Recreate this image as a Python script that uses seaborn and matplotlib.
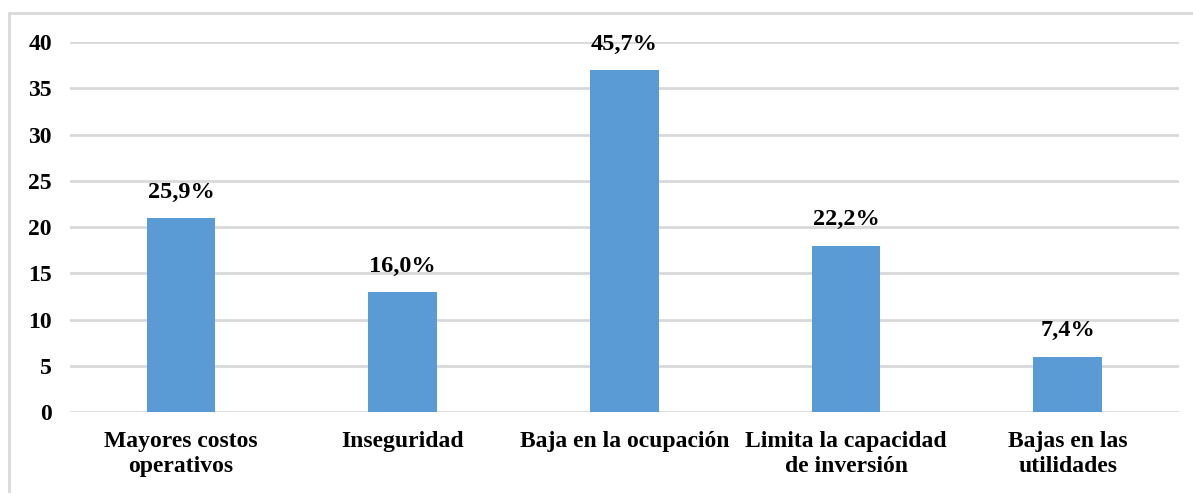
import matplotlib
matplotlib.use("Agg")
import matplotlib.pyplot as plt
import seaborn as sns
import pandas as pd
from matplotlib.lines import Line2D

# Data
categories = ["Mayores costos\noperativos", "Inseguridad", "Baja en la ocupación",
              "Limita la capacidad\nde inversión", "Bajas en las\nutilidades"]
counts = [21, 13, 37, 18, 6]
percent_labels = ["25,9%", "16,0%", "45,7%", "22,2%", "7,4%"]
y_ticks = [0, 5, 10, 15, 20, 25, 30, 35, 40]

sns.set_theme(style="white")
plt.rcParams["font.family"] = ["Liberation Serif", "DejaVu Serif"]
plt.rcParams["font.weight"] = "bold"

fig = plt.figure(figsize=(11.93, 4.93), dpi=100)
ax = fig.add_axes([0.0587, 0.1643, 0.9293, 0.7505])

df = pd.DataFrame({"categoria": categories, "valor": counts})
sns.barplot(data=df, x="categoria", y="valor", color="#5B9BD5", width=0.31,
            saturation=1, linewidth=0, ax=ax, zorder=3)

ax.set_ylim(0, 40)
ax.set_yticks(y_ticks)
ax.set_xlim(-0.5, len(categories) - 0.5)
ax.yaxis.grid(True, color="#d9d9d9", linewidth=2, zorder=0)
ax.set_axisbelow(True)
for s in ax.spines.values():
    s.set_visible(False)
ax.set_xlabel("")
ax.set_ylabel("")
ax.tick_params(axis="y", length=0, pad=13, labelsize=17)
ax.tick_params(axis="x", length=0, pad=14, labelsize=17)
for lbl in ax.get_xticklabels() + ax.get_yticklabels():
    lbl.set_fontweight("bold")
    lbl.set_color("black")
for lbl in ax.get_xticklabels():
    lbl.set_linespacing(1.2)

for i, (v, t) in enumerate(zip(counts, percent_labels)):
    ax.annotate(t, xy=(i, v), xytext=(0, 11), textcoords="offset points",
                ha="center", va="bottom", fontsize=17.5, fontweight="bold",
                color="black")

# Light frame lines along the top and left of the chart area
x0, y0 = 9 / 1193, 1 - 13 / 493
fig.add_artist(Line2D([x0, 1], [y0, y0], transform=fig.transFigure,
                      color="#d9d9d9", linewidth=2))
fig.add_artist(Line2D([x0, x0], [0, y0], transform=fig.transFigure,
                      color="#d9d9d9", linewidth=2))

fig.savefig("out.png", dpi=100, facecolor="white")
